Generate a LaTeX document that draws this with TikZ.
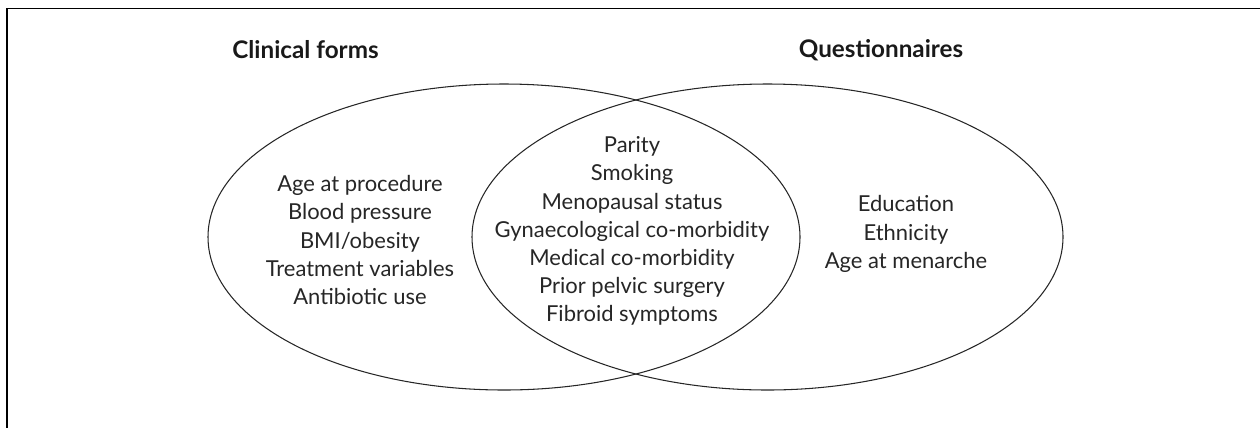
\documentclass[tikz,border=0pt]{standalone}
\usepackage{fontspec}
\setmainfont{Lato}
\usepackage{tikz}
\usetikzlibrary{positioning,calc}

\begin{document}
\begin{tikzpicture}[x=0.02cm,y=-0.02cm,
		ring/.style={line width=0.6pt, black!85},
		frameline/.style={line width=0.9pt, black},
		items/.style={align=center, font=\fontsize{12.5}{16}\selectfont, text=black!85},
		heading/.style={font=\fontsize{13.8}{15}\selectfont\bfseries, text=black!90}]
		\useasboundingbox (0,0) rectangle (1260,427);
		\draw [frameline] (7,440) -- (7,8.5) -- (1270,8.5);
		% the two sets
		\coordinate (cl) at (504,237);
		\coordinate (cr) at (767.5,237);
		\draw [ring] (cl) ellipse [x radius=296, y radius=153];
		\draw [ring] (cr) ellipse [x radius=295.5, y radius=153];
		\node [heading] (clinical) at (305.5,50) {Clinical forms};
		\node [heading] (quest) at (881,50) {Questionnaires};
		\node [items] (left) at (360,240) {Age at procedure\\Blood pressure\\BMI/obesity\\Treatment variables\\Antibiotic use};
		\node [items] (both) at (632,231) {Parity\\Smoking\\Menopausal status\\Gynaecological co-morbidity\\Medical co-morbidity\\Prior pelvic surgery\\Fibroid symptoms};
		\node [items] (right) at (906,234) {Education\\Ethnicity\\Age at menarche};
\end{tikzpicture}
\end{document}
